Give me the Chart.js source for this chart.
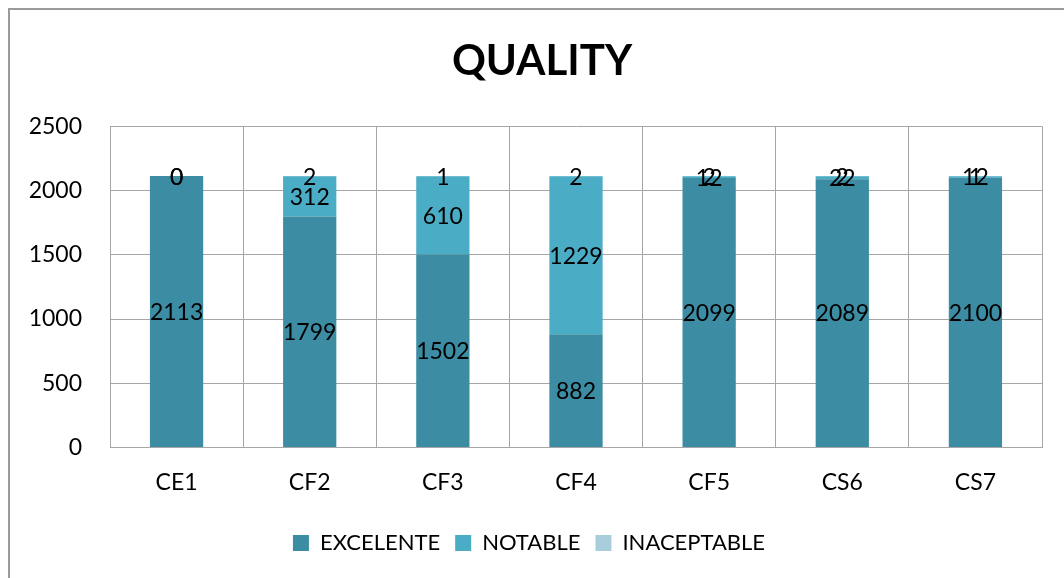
<!DOCTYPE html>
<html lang="es">
<head>
<meta charset="utf-8">
<title>Quality</title>
<script src="https://cdn.jsdelivr.net/npm/chart.js@4.4.1/dist/chart.umd.min.js"></script>
<style>
  html, body { margin: 0; padding: 0; background: #fff; overflow: hidden; }
  #wrap { position: relative; width: 1064px; height: 578px; }
</style>
</head>
<body>
<div id="wrap"><canvas id="chart-0" width="1064" height="578"></canvas></div>
<script>
// data
var categories = ['CE1', 'CF2', 'CF3', 'CF4', 'CF5', 'CS6', 'CS7'];
var excelente = [2113, 1799, 1502, 882, 2099, 2089, 2100];
var notable = [0, 312, 610, 1229, 12, 22, 12];
var inaceptable = [0, 2, 1, 2, 2, 2, 1];
var yTicks = [0, 500, 1000, 1500, 2000, 2500];

var FONT = 'Lato, "Open Sans", sans-serif';
var LEFT_PAD = 26;

// frame on the left and top, like the spreadsheet chart box
var framePlugin = {
    id: 'frame',
    afterLayout: function (chart) {
        // title in the reference sits a bit right of the plot centre
        if (chart.titleBlock) {
            chart.titleBlock.left = 2 * 542 - chart.titleBlock.right;
        }
        if (chart.legend) {
            chart.legend.left = chart.legend.left - 10;
        }
    },
    beforeDraw: function (chart) {
        var ctx = chart.ctx;
        ctx.save();
        ctx.strokeStyle = '#9a9a9a';
        ctx.lineWidth = 2;
        ctx.beginPath();
        ctx.moveTo(9, 578);
        ctx.lineTo(9, 9);
        ctx.lineTo(1064, 9);
        ctx.stroke();
        ctx.restore();
    }
};

// value labels in the middle of each segment
var labelPlugin = {
    id: 'segLabels',
    afterDatasetsDraw: function (chart) {
        var ctx = chart.ctx;
        ctx.save();
        ctx.font = '23px ' + FONT;
        ctx.fillStyle = '#000';
        ctx.textAlign = 'center';
        ctx.textBaseline = 'middle';
        chart.data.datasets.forEach(function (ds, i) {
            var meta = chart.getDatasetMeta(i);
            meta.data.forEach(function (bar, j) {
                var y = (bar.y + bar.base) / 2;
                ctx.fillText(String(ds.data[j]), bar.x, y + 1);
            });
        });
        ctx.restore();
    }
};

var chart = new Chart('chart-0', {
    type: 'bar',
    data: {
        labels: categories,
        datasets: [
            { label: 'EXCELENTE', data: excelente, backgroundColor: '#3c8ca3' },
            { label: 'NOTABLE', data: notable, backgroundColor: '#4bacc6' },
            { label: 'INACEPTABLE', data: inaceptable, backgroundColor: '#a8cedc' }
        ]
    },
    options: {
        responsive: false,
        animation: false,
        layout: { padding: { left: LEFT_PAD, right: 22, top: 20, bottom: 14 } },
        datasets: { bar: { categoryPercentage: 1.0, barPercentage: 0.4 } },
        plugins: {
            title: {
                display: true,
                text: 'QUALITY',
                color: '#000',
                font: { family: FONT, size: 42, weight: 'bold' },
                padding: { top: 16, bottom: 40 }
            },
            legend: {
                position: 'bottom',
                labels: {
                    color: '#000',
                    font: { family: FONT, size: 22 },
                    boxWidth: 16,
                    boxHeight: 16,
                    padding: 15
                }
            },
            tooltip: { enabled: false }
        },
        scales: {
            x: {
                stacked: true,
                grid: { color: '#a6a6a6', drawTicks: false, offset: true },
                border: { color: '#a6a6a6' },
                ticks: { color: '#000', font: { family: FONT, size: 23 }, padding: 21 }
            },
            y: {
                stacked: true,
                min: 0,
                max: 2500,
                afterBuildTicks: function (axis) {
                    axis.ticks = yTicks.map(function (v) { return { value: v }; });
                },
                afterFit: function (scale) { scale.width = 110 - LEFT_PAD; },
                grid: { color: '#a6a6a6', drawTicks: false },
                border: { color: '#a6a6a6' },
                ticks: {
                    color: '#000',
                    font: { family: FONT, size: 23 },
                    padding: 28,
                    callback: function (v) { return String(v); }
                }
            }
        }
    },
    plugins: [framePlugin, labelPlugin]
});
</script>
</body>
</html>
